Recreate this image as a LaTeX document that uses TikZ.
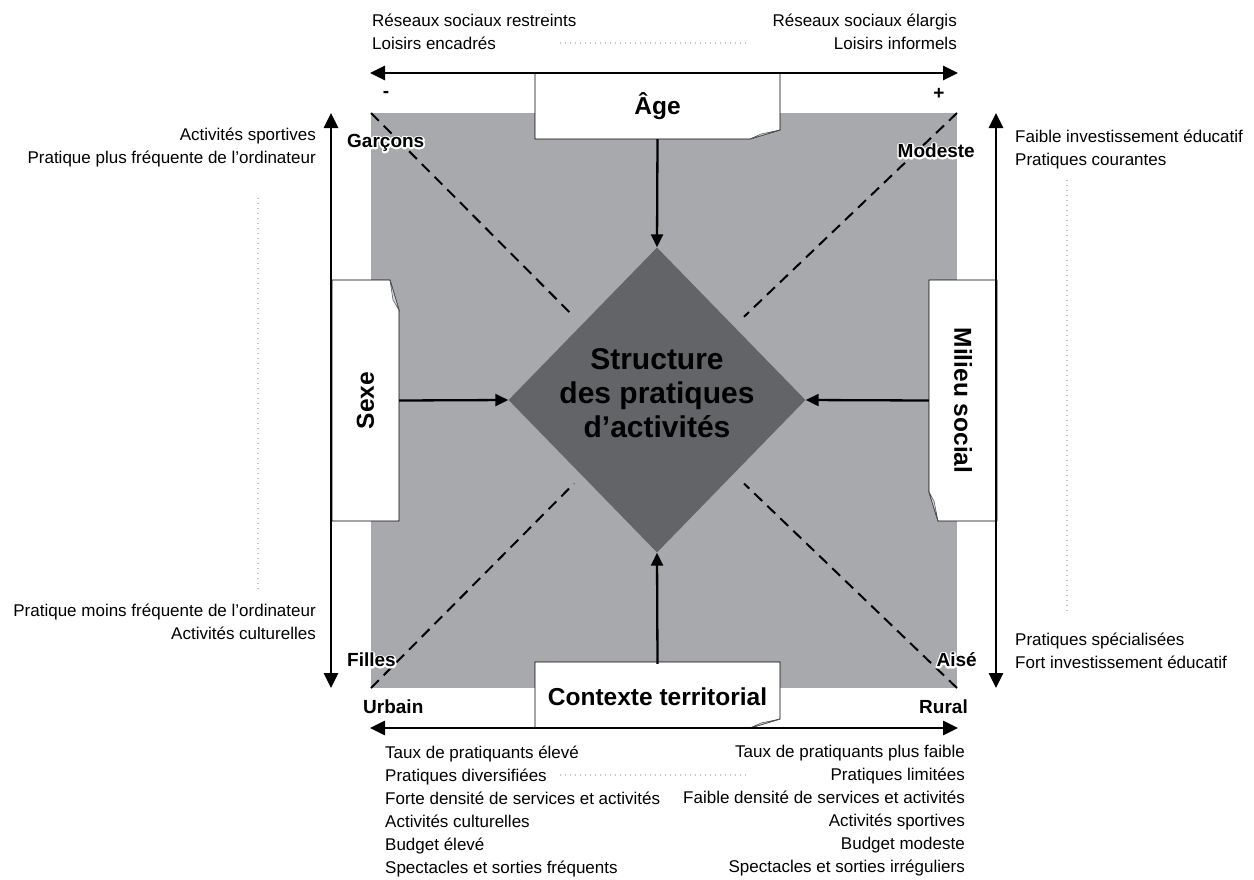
\documentclass[tikz,border=0pt]{standalone}
\usepackage{fontspec}
\setmainfont{Liberation Sans}
\usepackage{graphicx}
\usetikzlibrary{arrows.meta,shapes.geometric,calc}

\definecolor{panelgrey}{HTML}{A7A9AC}
\definecolor{coregrey}{HTML}{626467}
\definecolor{dotgrey}{HTML}{C4C4C4}
\definecolor{foldgrey}{HTML}{D3D5D6}

% white outline behind a word: stroked copy first, then the word itself
\newcommand{\halo}[1]{\leavevmode\rlap{\special{pdf:literal direct 1 Tr 3.4 w 1 j 1 1 1 RG}#1\special{pdf:literal direct 0 Tr 0.4 w 0 0 0 RG}}#1}

\begin{document}
\begin{tikzpicture}[x=1pt,y=-1pt,
  axis/.style={line width=2.8pt,{Triangle[length=15pt,width=14pt]}-{Triangle[length=15pt,width=14pt]}},
  feed/.style={line width=2.3pt,-{Triangle[length=13pt,width=12pt]}},
  diag/.style={line width=2pt,dash pattern=on 11pt off 7pt},
  guide/.style={dotgrey,line width=1.4pt,dash pattern=on 1.4pt off 3.6pt},
  note/.style={inner sep=0pt,font=\fontsize{17}{23}\selectfont},
  pole/.style={inner sep=0pt,font=\fontsize{19}{22}\selectfont\bfseries},
  factor/.style={inner sep=0pt,font=\fontsize{24.5}{28}\selectfont\bfseries},
  card/.style={draw=black,line width=0.8pt,fill=white},
  curl/.style={draw=black!70,line width=0.5pt,fill=foldgrey},
  hubshape/.style={diamond,fill=coregrey,inner sep=0pt,minimum width=297pt,minimum height=305pt},
  title/.style={align=center,inner sep=0pt,font=\fontsize{30}{34}\selectfont\bfseries}]
\useasboundingbox (0,0) rectangle (1254,879);

% grey field and its corners
\coordinate (nw) at (371,113);
\coordinate (ne) at (957,113);
\coordinate (sw) at (371,688);
\coordinate (se) at (957,688);
\fill[panelgrey] (nw) rectangle (se);

% central diamond
\node[hubshape] (hub) at (657,400) {};

% dashed diagonals towards the centre
\draw[diag] (nw) -- ($(nw)!0.71!(hub.center)$);
\draw[diag] (ne) -- ($(ne)!0.71!(hub.center)$);
\draw[diag] (sw) -- ($(sw)!0.71!(hub.center)$);
\draw[diag] (se) -- ($(se)!0.71!(hub.center)$);

% cards with a turned corner
\draw[card] (535,73) -- (780,73) -- (780,130) -- (750,139) -- (535,139) -- cycle;
\draw[curl] (750,139) -- (780,130) -- (761,134) -- cycle;
\draw[card] (332,280) -- (390,280) -- (399,310) -- (399,521) -- (332,521) -- cycle;
\draw[curl] (390,280) -- (399,310) -- (393,300) -- cycle;
\draw[card] (929,280) -- (997,280) -- (997,521) -- (938,521) -- (929,492) -- cycle;
\draw[curl] (929,492) -- (938,521) -- (934,501) -- cycle;
\draw[card] (535,662) -- (780,662) -- (780,719) -- (750,728) -- (535,728) -- cycle;
\draw[curl] (750,728) -- (780,719) -- (761,723) -- cycle;

% axes
\coordinate (ageL) at (370,73);
\coordinate (ageR) at (958,73);
\coordinate (sexT) at (331,113);
\coordinate (sexB) at (331,688);
\coordinate (milT) at (996,113);
\coordinate (milB) at (996,688);
\coordinate (terL) at (370,728);
\coordinate (terR) at (958,728);
\draw[axis] (ageL) -- (ageR);
\draw[axis] (sexT) -- (sexB);
\draw[axis] (milT) -- (milB);
\draw[axis] (terL) -- (terR);

% factors
\node[factor,minimum width=245pt,minimum height=66pt] (age) at (657.5,106) {Âge};
\node[factor,minimum width=67pt,minimum height=241pt] (sex) at (365.5,400.5) {\rotatebox{90}{Sexe}};
\node[factor,minimum width=68pt,minimum height=241pt] (milieu) at (963,400.5) {\rotatebox{-90}{Milieu social}};
\node[factor,minimum width=245pt,minimum height=66pt] (terr) at (657.5,697) {Contexte territorial};
\node[title] (hubtext) at (657,393) {Structure\\des pratiques\\d’activités};

\draw[feed] (age.south) -- (hub.north);
\draw[feed] (sex.east) -- (hub.west);
\draw[feed] (milieu.west) -- (hub.east);
\draw[feed] (terr.north) -- (hub.south);

% poles of each axis
\node[pole] (minus) at (386,94) {-};
\node[pole] (plus) at (939,94) {+};
\node[pole,anchor=west] (boys) at (347,143) {\halo{Garçons}};
\node[pole,anchor=west] (girls) at (347,660) {\halo{Filles}};
\node[pole,anchor=east] (modest) at (975,151) {\halo{Modeste}};
\node[pole,anchor=east] (wealthy) at (977,660) {\halo{Aisé}};
\node[pole,anchor=west] (urban) at (363,707) {Urbain};
\node[pole,anchor=east] (rural) at (968,707) {Rural};

% descriptions
\node[note,anchor=north west,align=left] (agelow) at (372,13.4) {Réseaux sociaux restreints\\Loisirs encadrés};
\node[note,anchor=north east,align=right] (agehigh) at (957,13.4) {Réseaux sociaux élargis\\Loisirs informels};
\node[note,anchor=north east,align=right] (sexhigh) at (316,127.4) {Activités sportives\\Pratique plus fréquente de l’ordinateur};
\node[note,anchor=north east,align=right] (sexlow) at (316,603.4) {Pratique moins fréquente de l’ordinateur\\Activités culturelles};
\node[note,anchor=north west,align=left] (milhigh) at (1015,129.4) {Faible investissement éducatif\\Pratiques courantes};
\node[note,anchor=north west,align=left] (millow) at (1015,632.4) {Pratiques spécialisées\\Fort investissement éducatif};
\node[note,anchor=north west,align=left] (terlow) at (385,745.4) {Taux de pratiquants élevé\\Pratiques diversifiées\\Forte densité de services et activités\\Activités culturelles\\Budget élevé\\Spectacles et sorties fréquents};
\node[note,anchor=north east,align=right] (terhigh) at (965,745.4) {Taux de pratiquants plus faible\\Pratiques limitées\\Faible densité de services et activités\\Activités sportives\\Budget modeste\\Spectacles et sorties irréguliers};

% dotted guides between opposite poles
\draw[guide] (560,43) -- (750,43);
\draw[guide] (560,775) -- (750,775);
\draw[guide] (258,198) -- (258,590);
\draw[guide] (1067,180) -- (1067,615);
\end{tikzpicture}
\end{document}
